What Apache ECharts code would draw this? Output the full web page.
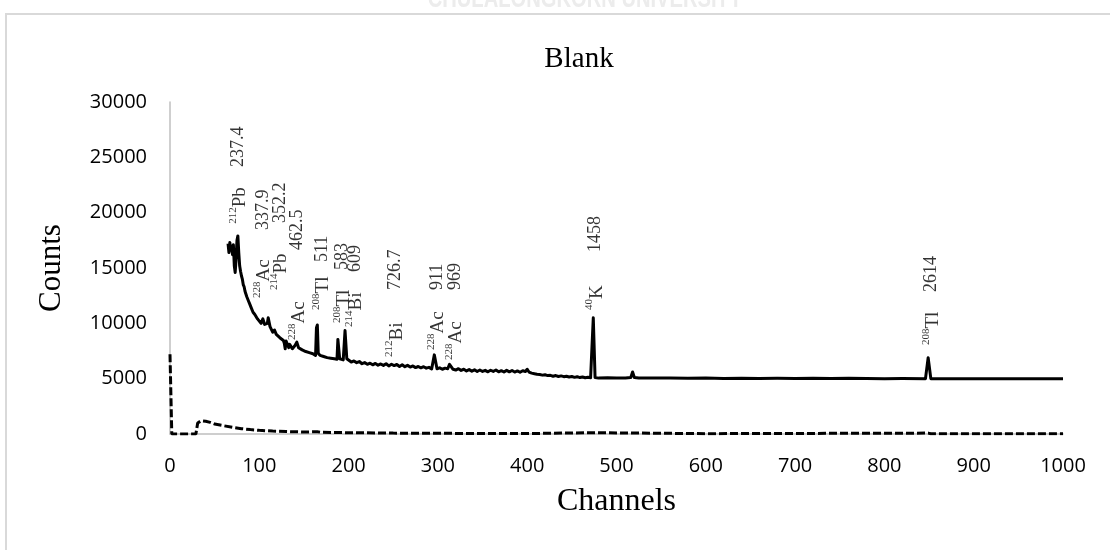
<!DOCTYPE html>
<html>
<head>
<meta charset="utf-8">
<script src="https://cdn.jsdelivr.net/npm/echarts@6/dist/echarts.min.js"></script>
<style>html,body{margin:0;padding:0;background:#fff;}#c{width:1110px;height:550px;}</style>
</head>
<body>
<div id="c"></div>
<script>
// ---- data ----
const sampleChannels = [65,66,67,68,69,70,71,72,73,74,75,76,77,78,79,80,81,82,83,84,85,86,87,88,89,90,91,92,93,94,95,96,98,100,102,104,105,106,107,109,110,111,112,113,115,117,119,121,123,125,127,128,129,130,132,133,134,136,137,138,140,141,142,143,144,146,148,150,152,154,156,158,160,162,163,164,165,166,168,170,172,174,176,178,180,182,184,186,187,188,189,190,192,194,196,197,198,200,203,206,209,212,215,218,221,224,227,230,233,236,239,242,245,248,251,254,257,260,263,266,269,272,275,278,281,284,287,290,293,296,297,299,302,305,308,311,313,315,317,320,323,326,329,332,335,338,341,344,347,350,353,356,359,362,365,368,371,374,377,380,383,386,389,392,395,398,400,402,405,408,411,414,417,420,423,426,429,432,435,438,441,444,447,450,453,456,459,462,465,468,471,474,476,480,490,500,510,516,518,520,525,540,560,580,600,620,640,660,680,700,720,740,760,780,800,820,846,849,852,880,920,960,1000];
const sampleCounts = [17200,16400,17300,16600,17000,16200,17100,15200,14600,15800,17500,17900,16400,15200,14700,14300,14000,13500,13300,12900,12800,12400,12300,12000,11800,11700,11400,11300,11000,11100,10800,10700,10400,10250,10000,10400,10550,9900,9750,10000,10500,10550,9700,9600,9200,9400,9000,8950,8700,8800,8450,8200,7700,8400,8250,7800,8100,8050,7700,7750,8000,7900,8300,8450,7800,7850,7600,7650,7450,7550,7350,7400,7250,7300,7100,9600,9850,7300,7100,7200,7000,7100,6900,7000,6850,6950,6800,6900,6750,8550,8500,6800,6900,6700,9350,9300,6800,6650,6500,6600,6450,6550,6350,6450,6300,6400,6250,6380,6220,6330,6200,6350,6150,6300,6180,6280,6100,6250,6080,6200,6050,6150,6000,6100,5980,6080,5950,6020,5880,7150,7100,5900,5980,5850,5950,5900,6300,6350,5850,5780,5900,5750,5850,5700,5820,5680,5800,5650,5780,5650,5750,5620,5760,5650,5780,5620,5720,5600,5750,5620,5740,5600,5700,5580,5720,5650,5850,5600,5500,5450,5400,5380,5320,5350,5280,5300,5220,5280,5200,5250,5180,5220,5150,5200,5120,5180,5100,5150,5080,5120,5080,10500,5100,5050,5080,5050,5050,5100,5600,5100,5050,5050,5070,5030,5050,5020,5040,5020,5030,5020,5040,5010,5030,5010,5000,5010,5000,6900,5000,5000,5000,5000,5000];

const blankChannels = [0,2,29,31,35,40,45,50,60,70,80,90,100,115,130,150,165,170,200,250,300,400,474,476,600,849,852,1000];
const blankCounts = [7200,0,0,1000,1200,1150,1050,900,750,600,480,400,330,270,220,180,200,150,120,80,60,40,120,40,30,80,30,30];

const peakChannels = [77,104,123,143,170,193,207,252,299,319,476,853];
const isoMass = ['212','228','214','228','208','208','214','212','228','228','40','208'];
const isoElement = ['Pb','Ac','Pb','Ac','Tl','Tl','Bi','Bi','Ac','Ac','K','Tl'];
const energies = ['237.4','337.9','352.2','462.5','511','583','609','726.7','911','969','1458','2614'];

const xTicks = {min:0, max:1000, interval:100};
const yTicks = {min:0, max:30000, interval:5000};

// ---- label layout (where each rotated annotation starts, in counts) ----
const isoLabelBase = [19000,12290,13010,8500,11210,10030,9670,6960,7590,6690,11210,8040];
const energyLabelBase = [24130,18440,19070,16630,15540,14820,14640,13010,13010,13010,16450,12830];

const serif = 'Liberation Serif';
const chart = echarts.init(document.getElementById('c'));

const isoPoints = peakChannels.map((c,i)=>({value:[c, isoLabelBase[i]], name:'{s|'+isoMass[i]+'}{e|'+isoElement[i]+'}'}));
const enPoints = peakChannels.map((c,i)=>({value:[c, energyLabelBase[i]], name:energies[i]}));

const labelCommon = {
  show:true, position:'inside', rotate:90, align:'left', verticalAlign:'middle',
  color:'#000', fontFamily:serif, fontSize:18,
  formatter: p => p.name
};

chart.setOption({
  animation:false,
  backgroundColor:'#fff',
  title:{text:'Blank', left:574, textAlign:'center', top:40,
    textStyle:{fontFamily:serif, fontSize:29, fontWeight:'normal', color:'#000'}},
  grid:{left:170, right:47, top:102, bottom:116, containLabel:false},
  graphic:[
    {type:'rect', shape:{x:6, y:14, width:1200, height:700}, style:{fill:'none', stroke:'#d9d9d9', lineWidth:2}, silent:true, z:-1},
    {type:'text', x:585, y:-15, scaleX:0.72, style:{text:'CHULALONGKORN UNIVERSITY', textAlign:'center', font:'bold 28px "Liberation Sans"', fill:'#ececec'}, silent:true, z:-2}
  ],
  xAxis:{type:'value', min:xTicks.min, max:xTicks.max, interval:xTicks.interval,
    name:'Channels', nameLocation:'middle', nameGap:52,
    nameTextStyle:{fontFamily:serif, fontSize:32, color:'#000'},
    axisLine:{show:true, onZero:false, lineStyle:{color:'#bfbfbf', width:1.5}},
    axisTick:{show:false}, splitLine:{show:false},
    axisLabel:{fontFamily:'Open Sans', fontSize:20, color:'#000', margin:22, formatter:v=>String(v)}},
  yAxis:{type:'value', min:yTicks.min, max:yTicks.max, interval:yTicks.interval,
    name:'Counts', nameLocation:'middle', nameGap:103,
    nameTextStyle:{fontFamily:serif, fontSize:31, color:'#000'},
    axisLine:{show:true, lineStyle:{color:'#bfbfbf', width:1.5}},
    axisTick:{show:false}, splitLine:{show:false},
    axisLabel:{fontFamily:'Open Sans', fontSize:20, color:'#000', margin:23, formatter:v=>String(v)}},
  series:[
    {type:'line', name:'Blank', data:blankChannels.map((c,i)=>[c, blankCounts[i]]),
      showSymbol:false, symbol:'none', lineStyle:{color:'#000', width:3, type:[8,3]}, z:2},
    {type:'line', name:'Sample', data:sampleChannels.map((c,i)=>[c, sampleCounts[i]]),
      showSymbol:false, symbol:'none', lineStyle:{color:'#000', width:3, join:'round'}, z:3},
    {type:'scatter', data:isoPoints, symbolSize:1, itemStyle:{color:'rgba(0,0,0,0)'}, silent:true,
      label:Object.assign({}, labelCommon, {rich:{
        s:{fontFamily:serif, fontSize:11, color:'#000', verticalAlign:'top', lineHeight:22},
        e:{fontFamily:serif, fontSize:19, color:'#000', verticalAlign:'bottom', lineHeight:22}}}), z:5},
    {type:'scatter', data:enPoints, symbolSize:1, itemStyle:{color:'rgba(0,0,0,0)'}, silent:true,
      label:labelCommon, z:5}
  ]
});
</script>
</body>
</html>
